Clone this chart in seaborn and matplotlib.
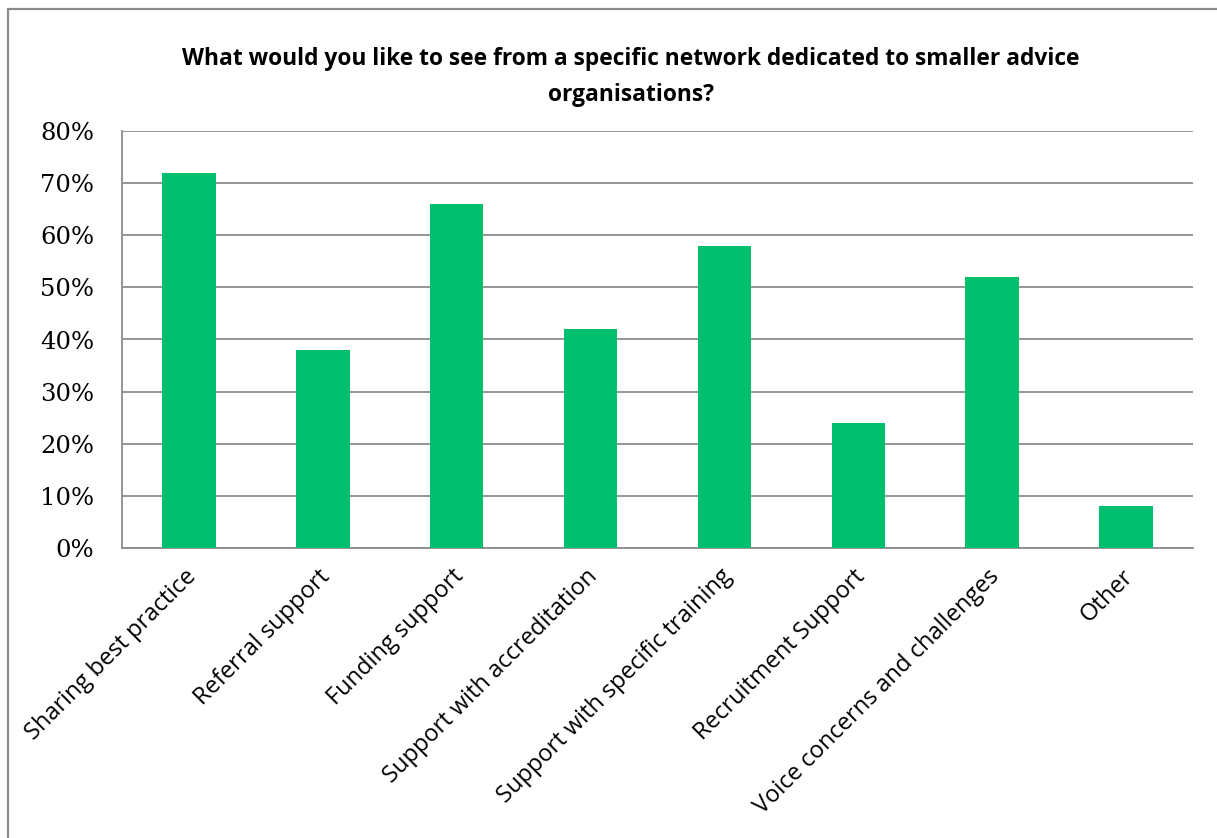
import numpy as np
import pandas as pd
import matplotlib
matplotlib.use("Agg")
import matplotlib.pyplot as plt
import matplotlib.transforms as mtransforms
from matplotlib.lines import Line2D
from matplotlib.ticker import FixedLocator, PercentFormatter
import seaborn as sns

# --- Data ---
categories = [
    "Sharing best practice",
    "Referral support",
    "Funding support",
    "Support with accreditation",
    "Support with specific training",
    "Recruitment Support",
    "Voice concerns and challenges",
    "Other",
]
shares = [0.72, 0.38, 0.66, 0.42, 0.58, 0.24, 0.52, 0.08]
y_ticks = [0.0, 0.1, 0.2, 0.3, 0.4, 0.5, 0.6, 0.7, 0.8]
title = ("What would you like to see from a specific network dedicated to smaller advice\n"
         "organisations?")

BAR_COLOR = "#00BF6F"
GRID_COLOR = "#8C8C8C"

sns.set_style("white")
plt.rcParams["text.color"] = "black"
plt.rcParams["xtick.color"] = "black"
plt.rcParams["ytick.color"] = "black"

df = pd.DataFrame({"category": categories, "share": shares})

W, H = 1217, 838
fig = plt.figure(figsize=(W / 100, H / 100), dpi=100)
ax = fig.add_axes([122 / W, 1 - 548 / H, (1193 - 122) / W, (548 - 131) / H])

sns.barplot(data=df, x="category", y="share", color=BAR_COLOR, saturation=1,
            width=0.4, linewidth=0, ax=ax, zorder=3)

ax.set_xlim(-0.5, len(categories) - 0.5)
ax.set_ylim(0, 0.8)
ax.set_yticks(y_ticks)
ax.yaxis.set_major_formatter(PercentFormatter(1.0, decimals=0))
ax.grid(axis="y", color=GRID_COLOR, linewidth=1.3, zorder=0)
ax.set_axisbelow(True)
ax.set_xlabel("")
ax.set_ylabel("")

for side in ["top", "right"]:
    ax.spines[side].set_visible(False)
for side in ["left", "bottom"]:
    ax.spines[side].set_color(GRID_COLOR)
    ax.spines[side].set_linewidth(1.3)

# category labels at bar centres, tick marks on category boundaries
ax.xaxis.set_minor_locator(FixedLocator(np.arange(-0.5, len(categories), 1.0)))
ax.tick_params(axis="x", which="major", length=0, pad=12, labelcolor="black")
ax.tick_params(axis="x", which="minor", length=8, width=1.3, color=GRID_COLOR, direction="out")
ax.tick_params(axis="y", length=8, width=1.3, color=GRID_COLOR, direction="out", pad=12,
               labelcolor="black")

shift = mtransforms.ScaledTranslation(-5 / 100, 0, fig.dpi_scale_trans)
for lab in ax.get_xticklabels():
    lab.set_rotation(45)
    lab.set_ha("right")
    lab.set_rotation_mode("anchor")
    lab.set_family(["Open Sans", "DejaVu Sans"])
    lab.set_fontsize(17)
    lab.set_transform(lab.get_transform() + shift)
for lab in ax.get_yticklabels():
    lab.set_family(["DejaVu Serif"])
    lab.set_fontsize(17.5)

fig.text(631 / W, 1 - 77 / H, title, ha="center", va="center", fontsize=16.4,
         fontweight="bold", family=["Open Sans", "DejaVu Sans"], linespacing=1.7,
         color="black")

# outer chart frame (left and top edges visible in the reference)
fig.add_artist(Line2D([7.5 / W, 7.5 / W], [0, 1 - 9.5 / H], color="#8C8C8C", linewidth=1.6,
                      transform=fig.transFigure))
fig.add_artist(Line2D([7.5 / W, 1], [1 - 9.5 / H, 1 - 9.5 / H], color="#8C8C8C", linewidth=1.6,
                      transform=fig.transFigure))

fig.savefig("out.png", dpi=100)
